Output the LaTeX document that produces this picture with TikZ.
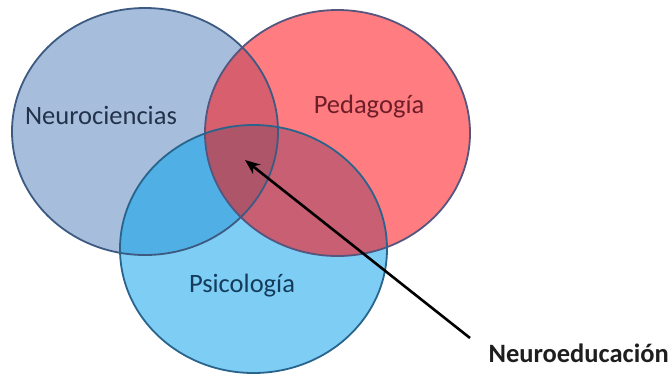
\documentclass[tikz,border=0pt]{standalone}
\usepackage{fontspec}
\setmainfont{Carlito}
\usetikzlibrary{arrows.meta}

\definecolor{neurofill}{RGB}{166,189,219}
\definecolor{pedafill}{RGB}{255,124,128}
\definecolor{psicofill}{RGB}{125,205,245}
\definecolor{npfill}{RGB}{215,95,110}
\definecolor{nsfill}{RGB}{80,175,228}
\definecolor{psfill}{RGB}{200,95,115}
\definecolor{allfill}{RGB}{175,85,105}
\definecolor{neuroline}{RGB}{60,90,130}
\definecolor{pedaline}{RGB}{85,85,125}
\definecolor{psicoline}{RGB}{40,100,140}

\begin{document}
\begin{tikzpicture}[x=1pt, y=-1pt,
    every node/.style={font=\fontsize{26.5}{31}\selectfont},
    ring/.style={line width=1.8pt}]
  \useasboundingbox (0,0) rectangle (670,376);

  \def\neuro{(145,131.5) ellipse [x radius=133, y radius=123.5]}
  \def\peda{(337.5,133) ellipse [x radius=132.5, y radius=123]}
  \def\psico{(253.5,249) ellipse [x radius=133.5, y radius=124]}

  % fills
  \fill[neurofill] \neuro;
  \fill[pedafill] \peda;
  \fill[psicofill] \psico;
  \begin{scope}
    \clip \neuro;
    \fill[npfill] \peda;
    \fill[nsfill] \psico;
  \end{scope}
  \begin{scope}
    \clip \peda;
    \fill[psfill] \psico;
  \end{scope}
  \begin{scope}
    \clip \neuro;
    \clip \peda;
    \fill[allfill] \psico;
  \end{scope}

  % borders
  \draw[ring, neuroline] \neuro;
  \draw[ring, pedaline] \peda;
  \draw[ring, psicoline] \psico;

  \node[text={rgb,255:red,35;green,50;blue,75}] (neuro) at (101,115) {Neurociencias};
  \node[text={rgb,255:red,110;green,30;blue,40}] (peda) at (369,107) {Pedagogía};
  \node[text={rgb,255:red,20;green,60;blue,90}] (psico) at (242,286) {Psicología};
  \node[anchor=west, font=\fontsize{26.5}{31}\selectfont\bfseries,
        text={rgb,255:red,30;green,30;blue,30}] (neuroedu) at (485,353) {Neuroeducación};

  \coordinate (tail) at (470,338);
  \coordinate (tip) at (245,160);
  \draw[line width=2.6pt, -{Stealth[length=15pt, width=12pt]}] (tail) -- (tip);
\end{tikzpicture}
\end{document}
